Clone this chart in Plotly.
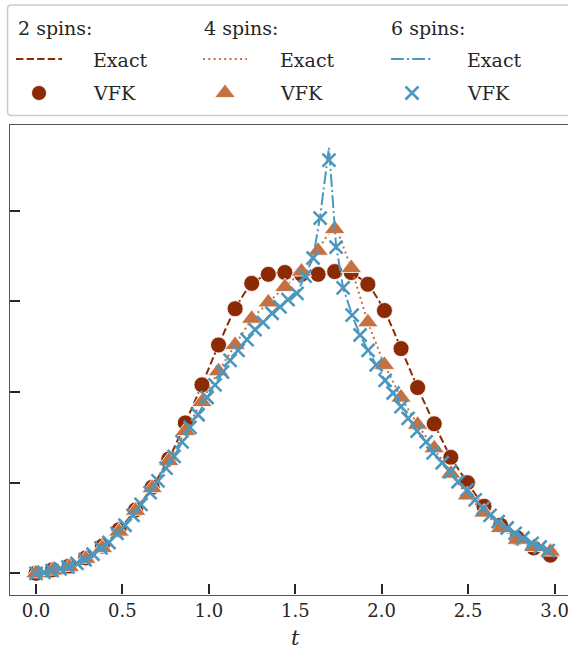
import plotly.graph_objects as go

# ---------------- data ----------------
# sample times for 2- and 4-spin VFK / exact curves
t_vfk = [0.0, 0.096, 0.192, 0.288, 0.384, 0.48, 0.576, 0.672, 0.768, 0.864, 0.96,
         1.056, 1.152, 1.248, 1.344, 1.44, 1.536, 1.632, 1.728, 1.824, 1.92, 2.016,
         2.112, 2.208, 2.304, 2.4, 2.496, 2.592, 2.688, 2.784, 2.88, 2.976]

y2_vfk = [0.000, 0.004, 0.008, 0.017, 0.030, 0.048, 0.070, 0.095, 0.126, 0.166, 0.208,
          0.252, 0.292, 0.320, 0.330, 0.332, 0.330, 0.330, 0.333, 0.332, 0.319, 0.290,
          0.248, 0.205, 0.165, 0.128, 0.100, 0.074, 0.053, 0.039, 0.028, 0.020]
y2_exact = [0.000, 0.004, 0.008, 0.017, 0.030, 0.048, 0.070, 0.095, 0.126, 0.166, 0.208,
            0.252, 0.292, 0.320, 0.330, 0.332, 0.331, 0.331, 0.332, 0.331, 0.319, 0.290,
            0.248, 0.205, 0.165, 0.128, 0.100, 0.074, 0.053, 0.039, 0.028, 0.020]

y4_vfk = [0.000, 0.003, 0.007, 0.016, 0.028, 0.046, 0.069, 0.094, 0.124, 0.157, 0.189,
          0.223, 0.252, 0.281, 0.299, 0.316, 0.333, 0.356, 0.380, 0.337, 0.277, 0.230,
          0.194, 0.164, 0.138, 0.110, 0.086, 0.067, 0.050, 0.037, 0.029, 0.024]
y4_exact = [0.000, 0.003, 0.007, 0.016, 0.028, 0.046, 0.069, 0.094, 0.124, 0.157, 0.189,
            0.223, 0.252, 0.281, 0.299, 0.316, 0.333, 0.357, 0.386, 0.337, 0.277, 0.230,
            0.194, 0.164, 0.138, 0.110, 0.086, 0.067, 0.050, 0.037, 0.029, 0.024]

# sample times for 6-spin curves
t6 = [0.0, 0.046, 0.093, 0.139, 0.185, 0.237, 0.284, 0.330, 0.376, 0.422, 0.469,
      0.515, 0.561, 0.608, 0.660, 0.706, 0.752, 0.799, 0.845, 0.891, 0.938, 0.990,
      1.036, 1.079, 1.123, 1.169, 1.221, 1.267, 1.314, 1.366, 1.412, 1.458, 1.510,
      1.557, 1.603, 1.644, 1.695, 1.736, 1.777, 1.829, 1.875, 1.921, 1.968, 2.020,
      2.066, 2.112, 2.153, 2.205, 2.257, 2.297, 2.350, 2.396, 2.442, 2.494, 2.541,
      2.587, 2.627, 2.674, 2.726, 2.772, 2.818, 2.870, 2.917, 2.963]
y6_vfk = [0.000, 0.001, 0.003, 0.005, 0.007, 0.011, 0.015, 0.021, 0.028, 0.034, 0.044,
          0.053, 0.064, 0.076, 0.089, 0.102, 0.116, 0.129, 0.145, 0.161, 0.175, 0.194,
          0.208, 0.222, 0.235, 0.246, 0.258, 0.269, 0.277, 0.287, 0.294, 0.302, 0.309,
          0.328, 0.348, 0.392, 0.456, 0.360, 0.315, 0.285, 0.263, 0.246, 0.230, 0.213,
          0.199, 0.184, 0.171, 0.157, 0.145, 0.133, 0.122, 0.112, 0.101, 0.092, 0.081,
          0.072, 0.064, 0.057, 0.050, 0.044, 0.039, 0.033, 0.029, 0.025]
y6_exact = [0.000, 0.001, 0.003, 0.005, 0.007, 0.011, 0.015, 0.021, 0.028, 0.034, 0.044,
            0.053, 0.064, 0.076, 0.089, 0.102, 0.116, 0.129, 0.145, 0.161, 0.175, 0.194,
            0.208, 0.222, 0.235, 0.246, 0.258, 0.269, 0.277, 0.287, 0.294, 0.302, 0.309,
            0.328, 0.348, 0.394, 0.470, 0.362, 0.315, 0.285, 0.263, 0.246, 0.230, 0.213,
            0.199, 0.184, 0.171, 0.157, 0.145, 0.133, 0.122, 0.112, 0.101, 0.092, 0.081,
            0.072, 0.064, 0.057, 0.050, 0.044, 0.039, 0.033, 0.029, 0.025]

x_ticks = [0.0, 0.5, 1.0, 1.5, 2.0, 2.5, 3.0]
x_tick_labels = ["0.0", "0.5", "1.0", "1.5", "2.0", "2.5", "3.0"]
y_ticks = [0.0, 0.1, 0.2, 0.3, 0.4]
group_titles = ["2 spins:", "4 spins:", "6 spins:"]

# ---------------- styles ----------------
W, H = 568, 651
C2, C4, C6 = "#8B2A05", "#C5703F", "#4B97BE"
FONT = "DejaVu Serif"
TXT = "#262626"
DASH2 = "7.4px,3.2px"
DASH4 = "2px,3.3px"
DASH6 = "12.8px,3.2px,2px,3.2px"

fig = go.Figure()

# 2 spins
fig.add_trace(go.Scatter(x=t_vfk, y=y2_exact, mode="lines",
                         line=dict(color=C2, width=2, dash=DASH2, shape="spline", smoothing=0.6)))
fig.add_trace(go.Scatter(x=t_vfk, y=y2_vfk, mode="markers",
                         marker=dict(symbol="circle", size=16, color=C2,
                                     line=dict(color="white", width=0.8))))
# 4 spins
fig.add_trace(go.Scatter(x=t_vfk, y=y4_exact, mode="lines",
                         line=dict(color=C4, width=2, dash=DASH4)))
fig.add_trace(go.Scatter(x=t_vfk, y=y4_vfk, mode="markers",
                         marker=dict(symbol="triangle-up", size=18, color=C4,
                                     line=dict(color="white", width=0.8))))
# 6 spins
fig.add_trace(go.Scatter(x=t6, y=y6_exact, mode="lines",
                         line=dict(color=C6, width=2, dash=DASH6)))
fig.add_trace(go.Scatter(x=t6, y=y6_vfk, mode="markers",
                         marker=dict(symbol="x-thin", size=13, color=C6,
                                     line=dict(color=C6, width=2.6))))

# ---------------- legend (pixel overlay axis) ----------------
leg_cols_line = [(16, 62), (203, 247), (391, 433)]
leg_cols_text = [16, 202, 389]
leg_cols_label = [91, 278, 465]
leg_colors = [C2, C4, C6]
leg_dash = [DASH2, DASH4, DASH6]
leg_sym = ["circle", "triangle-up", "x-thin"]
ROW_T, ROW_E, ROW_V = 28, 60, 93

for k in range(3):
    x0, x1 = leg_cols_line[k]
    fig.add_trace(go.Scatter(x=[x0, x1], y=[ROW_E - 1, ROW_E - 1], mode="lines",
                             xaxis="x2", yaxis="y2",
                             line=dict(color=leg_colors[k], width=2, dash=leg_dash[k])))
    if leg_sym[k] == "x-thin":
        mk = dict(symbol="x-thin", size=13, color=C6, line=dict(color=C6, width=2.6))
    else:
        mk = dict(symbol=leg_sym[k], size=18 if k == 1 else 15, color=leg_colors[k],
                  line=dict(color="white", width=0.8))
    fig.add_trace(go.Scatter(x=[(x0 + x1) / 2], y=[ROW_V], mode="markers",
                             xaxis="x2", yaxis="y2", marker=mk))

leg_texts = []
for k in range(3):
    leg_texts.append((leg_cols_text[k], ROW_T, group_titles[k]))
    leg_texts.append((leg_cols_label[k], ROW_E, "Exact"))
    leg_texts.append((leg_cols_label[k], ROW_V, "VFK"))
for (xx, yy, tt) in leg_texts:
    fig.add_annotation(x=xx / W, y=1 - yy / H, xref="paper", yref="paper",
                       text=tt, showarrow=False, xanchor="left", yanchor="middle",
                       font=dict(family=FONT, size=19, color=TXT))

fig.add_shape(type="path", xref="x2", yref="y2", layer="below",
              path="M 11.5,5 L 590,5 L 590,115.5 L 11.5,115.5 Q 7.5,115.5 7.5,111.5 "
                   "L 7.5,9 Q 7.5,5 11.5,5 Z",
              line=dict(color="#cccccc", width=1.6), fillcolor="white")

# x label
fig.add_annotation(x=1.5, y=1 - 638 / H, xref="x", yref="paper", text="<i>t</i>",
                   showarrow=False, xanchor="center", yanchor="middle",
                   font=dict(family=FONT, size=21, color=TXT))

for tr in fig.data:
    tr.showlegend = False

fig.update_layout(
    width=W, height=H,
    margin=dict(l=0, r=0, t=0, b=0),
    paper_bgcolor="white", plot_bgcolor="rgba(0,0,0,0)",
    showlegend=False,
    xaxis=dict(domain=[10 / W, 1], range=[-0.1505, 3.078], anchor="y",
               showgrid=False, zeroline=False,
               showline=True, linecolor="#555555", linewidth=1.2, mirror=True,
               ticks="inside", ticklen=10, tickwidth=1.5, tickcolor="#262626",
               tickvals=x_ticks, ticktext=x_tick_labels, ticklabeloverflow="allow",
               tickfont=dict(family=FONT, size=18, color=TXT)),
    yaxis=dict(domain=[(H - 594.5) / H, (H - 125) / H], range=[-0.0234, 0.4948],
               anchor="x", showgrid=False, zeroline=False,
               showline=True, linecolor="#555555", linewidth=1.2, mirror=False,
               ticks="inside", ticklen=10, tickwidth=1.5, tickcolor="#262626",
               tickvals=y_ticks, showticklabels=False),
    xaxis2=dict(domain=[0, 1], range=[0, W], anchor="y2", visible=False),
    yaxis2=dict(domain=[0, 1], range=[H, 0], anchor="x2", visible=False),
)

fig.write_html("out.html")
